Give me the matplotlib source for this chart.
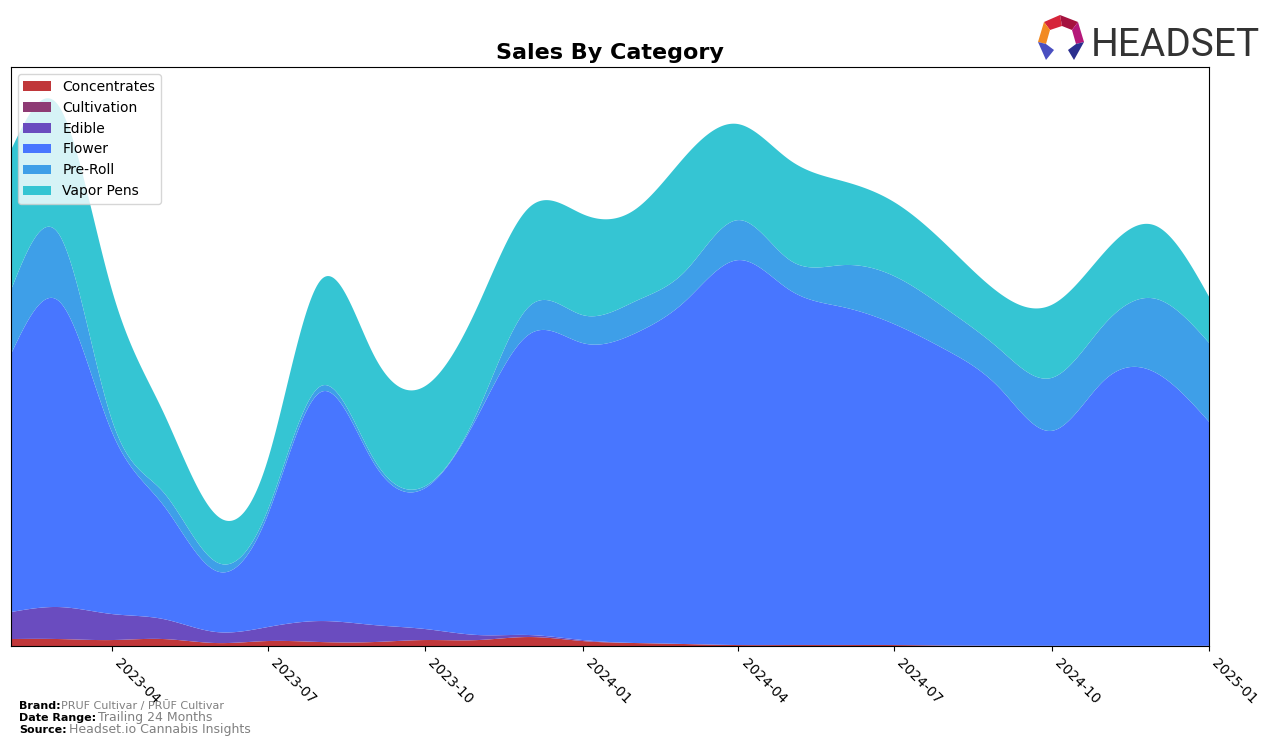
import matplotlib
matplotlib.use("Agg")
import matplotlib.pyplot as plt
import matplotlib.dates as mdates
from matplotlib.patches import Polygon
import numpy as np
import pandas as pd

# monthly sales (arbitrary units)
months = pd.date_range("2023-02-01", "2025-01-01", freq="MS")
categories = ["Concentrates", "Cultivation", "Edible", "Flower", "Pre-Roll", "Vapor Pens"]
colors = ["#c0373a", "#8e3b74", "#6a4cbf", "#4876ff", "#3e9fe8", "#35c5d3"]

concentrates = [7, 7, 6, 7, 3, 5, 4, 4, 6, 6, 9, 5, 3, 2, 1, 1, 1, 1, 0.5, 0.3, 0.2, 0.2, 0.2, 0.2]
cultivation = [0] * 24
edible = [27, 32, 26, 20, 11, 14, 21, 17, 11, 5, 2, 1, 0, 0, 0, 0, 0, 0, 0, 0, 0, 0, 0, 0]
flower = [258, 306, 182, 114, 61, 112, 229, 162, 141, 220, 301, 297, 310, 343, 385, 355,
          338, 321, 295, 257, 215, 266, 273, 224]
preroll = [64, 67, 12, 13, 9, 5, 6, 4, 2, 5, 28, 28, 32, 30, 40, 30, 42, 48, 41, 39, 53, 56, 74, 79]
vapor = [140, 128, 130, 80, 47, 50, 106, 104, 100, 105, 99, 101, 92, 115, 96, 100, 84, 74, 64,
         56, 73, 72, 73, 46]

brand = "PRUF Cultivar / PRŪF Cultivar"
date_range = "Trailing 24 Months"
source = "Headset.io Cannabis Insights"


def spline(x, y, xs):
    """natural cubic spline through (x, y), evaluated at xs"""
    x = np.asarray(x, float)
    y = np.asarray(y, float)
    n = len(x)
    h = np.diff(x)
    A = np.zeros((n, n))
    b = np.zeros(n)
    A[0, 0] = A[-1, -1] = 1
    for i in range(1, n - 1):
        A[i, i - 1] = h[i - 1]
        A[i, i] = 2 * (h[i - 1] + h[i])
        A[i, i + 1] = h[i]
        b[i] = 3 * ((y[i + 1] - y[i]) / h[i] - (y[i] - y[i - 1]) / h[i - 1])
    c = np.linalg.solve(A, b)
    bb = (y[1:] - y[:-1]) / h - h * (2 * c[:-1] + c[1:]) / 3
    d = (c[1:] - c[:-1]) / (3 * h)
    idx = np.clip(np.searchsorted(x, xs) - 1, 0, n - 2)
    dx = xs - x[idx]
    return y[idx] + bb[idx] * dx + c[idx] * dx ** 2 + d[idx] * dx ** 3


x = mdates.date2num(months)
xs = np.linspace(x[0], x[-1], 800)
series = [concentrates, cultivation, edible, flower, preroll, vapor]
smooth = [np.clip(spline(x, s, xs), 0, None) for s in series]

fig = plt.figure(figsize=(12.76, 7.46), dpi=100)
ax = fig.add_axes([0.0086, 0.134, 0.939, 0.776])
ax.stackplot(xs, *smooth, labels=categories, colors=colors)

ax.set_xlim(x[0], x[-1])
ax.set_ylim(0, 579)
ax.set_yticks([])
ax.xaxis.set_major_locator(mdates.MonthLocator(bymonth=[1, 4, 7, 10]))
ax.xaxis.set_major_formatter(mdates.DateFormatter("%Y-%m"))
plt.setp(ax.get_xticklabels(), rotation=-45, ha="left", fontsize=10)
ax.set_title("Sales By Category", fontsize=16, fontweight="bold", pad=6)
ax.legend(loc="upper left", fontsize=10)

# footer
fig.text(0.015, 0.049, "Brand:", fontsize=8, fontweight="bold")
fig.text(0.048, 0.049, brand, fontsize=8, color="gray")
fig.text(0.015, 0.033, "Date Range:", fontsize=8, fontweight="bold")
fig.text(0.077, 0.033, date_range, fontsize=9, color="gray")
fig.text(0.015, 0.018, "Source:", fontsize=8, fontweight="bold")
fig.text(0.054, 0.018, source, fontsize=9, color="gray")

# logo
fig.text(1091 / 1276, 1 - 56 / 746, "HEADSET", fontsize=28, color="#333333", family="Roboto")
icon = [
    ([(1044, 22), (1060, 15), (1062, 26), (1050, 30)], "#d6243a"),
    ([(1060, 15), (1078, 22), (1072, 30), (1062, 26)], "#a5123f"),
    ([(1044, 22), (1050, 30), (1046, 44), (1038, 42)], "#f28a22"),
    ([(1078, 22), (1084, 42), (1076, 44), (1072, 30)], "#b5187a"),
    ([(1038, 42), (1046, 44), (1054, 50), (1046, 60)], "#4a4fc0"),
    ([(1084, 42), (1076, 44), (1068, 50), (1074, 60)], "#2b2f8f"),
]
for pts, col in icon:
    fig.patches.append(Polygon([(px / 1276, 1 - py / 746) for px, py in pts], closed=True,
                               facecolor=col, edgecolor="none", transform=fig.transFigure))

fig.savefig("out.png", dpi=100)
